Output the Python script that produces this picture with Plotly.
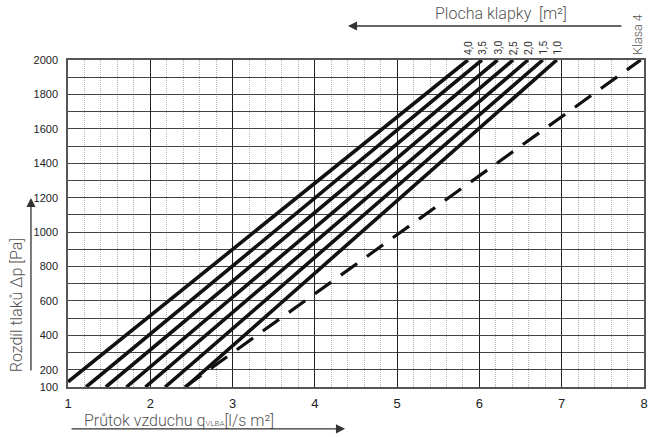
import plotly.graph_objects as go

# ---- data ----
area_labels = ["4,0", "3,5", "3,0", "2,5", "2,0", "1,5", "1,0"]
flow_start = [1.0, 1.22, 1.46, 1.71, 1.94, 2.18, 2.43]
dp_start = [130, 100, 100, 100, 100, 100, 100]
flow_end = [5.86, 6.03, 6.22, 6.41, 6.59, 6.77, 6.94]
dp_end = [2000, 2000, 2000, 2000, 2000, 2000, 2000]

class_label = "Klasa 4"
class_flow = [2.42, 7.96]
class_dp = [100, 2000]

y_tickvals = [100, 200, 400, 600, 800, 1000, 1200, 1400, 1600, 1800, 2000]
x_tickvals = [1, 2, 3, 4, 5, 6, 7, 8]

fig = go.Figure()

for lab, x0, y0, x1, y1 in zip(area_labels, flow_start, dp_start, flow_end, dp_end):
    fig.add_trace(go.Scatter(x=[x0, x1], y=[y0, y1], mode="lines",
                             line=dict(color="#111111", width=3.6),
                             showlegend=False, hoverinfo="skip"))
    fig.add_annotation(x=x1, y=y1, xref="x", yref="y", text=lab, showarrow=False,
                       textangle=-90, xanchor="center", yanchor="bottom", yshift=3,
                       font=dict(family="Roboto, Liberation Sans", size=10.5, color="#333"))

fig.add_trace(go.Scatter(x=class_flow, y=class_dp, mode="lines",
                         line=dict(color="#111111", width=3.2, dash="20px,12px"),
                         showlegend=False, hoverinfo="skip"))
fig.add_annotation(x=class_flow[-1], y=class_dp[-1], xref="x", yref="y", text=class_label,
                   showarrow=False, textangle=-90, xanchor="center", yanchor="bottom", yshift=3,
                   xshift=-4,
                   font=dict(family="Roboto, Liberation Sans", size=12.5, color="#555", weight=300))

title_font = dict(family="Roboto, Noto Sans, sans-serif", size=16, color="#555", weight=300)
arrow_col = "#333"

# top title + arrow
fig.add_annotation(xref="paper", yref="paper", x=0.752, y=1.141, text="Plocha klapky  [m²]",
                   showarrow=False, font=title_font, xanchor="center", yanchor="middle")
fig.add_annotation(xref="paper", yref="paper", x=0.486, y=1.104, ax=275, ay=0,
                   axref="pixel", ayref="pixel", text="", showarrow=True,
                   arrowhead=2, arrowsize=1.4, arrowwidth=1.3, arrowcolor=arrow_col)

# left title + arrow
fig.add_annotation(xref="paper", yref="paper", x=-0.088, y=0.251, text="Rozdíl tlaků Δp [Pa]",
                   showarrow=False, font=title_font, textangle=-90,
                   xanchor="center", yanchor="middle")
fig.add_annotation(xref="paper", yref="paper", x=-0.0643, y=0.578, ax=0, ay=174,
                   axref="pixel", ayref="pixel", text="", showarrow=True,
                   arrowhead=2, arrowsize=1.4, arrowwidth=1.3, arrowcolor=arrow_col)

# bottom title + arrow
fig.add_annotation(xref="paper", yref="paper", x=0.193, y=-0.101,
                   text="Průtok vzduchu q<span style='font-size:8px'>VLBA</span>[l/s m²]",
                   showarrow=False, font=title_font, xanchor="center", yanchor="middle")
fig.add_annotation(xref="paper", yref="paper", x=0.481, y=-0.128, ax=-275, ay=0,
                   axref="pixel", ayref="pixel", text="", showarrow=True,
                   arrowhead=2, arrowsize=1.4, arrowwidth=1.3, arrowcolor=arrow_col)

fig.update_layout(
    width=653, height=437,
    margin=dict(l=68, r=5, t=60, b=50),
    paper_bgcolor="white", plot_bgcolor="white",
    xaxis=dict(range=[1, 8], tickvals=x_tickvals, showgrid=True, gridcolor="#222",
               gridwidth=1, zeroline=False, showline=True, linecolor="#555", linewidth=1.5,
               mirror=True, ticks="", ticklabelstandoff=4,
               tickfont=dict(family="Liberation Sans, Arial", size=13, color="#222"),
               minor=dict(dtick=0.2, tick0=1, showgrid=True, gridcolor="#b5b5b5",
                          griddash="1px,1px", gridwidth=1)),
    yaxis=dict(range=[100, 2000], tickvals=y_tickvals, showgrid=True, gridcolor="#444",
               gridwidth=1.2, zeroline=False, showline=True, linecolor="#555", linewidth=1.5,
               mirror=True, ticks="", ticklabelstandoff=6,
               tickfont=dict(family="Liberation Sans, Arial", size=11, color="#222"),
               minor=dict(dtick=100, tick0=100, showgrid=True, gridcolor="#444",
                          gridwidth=1.2)),
)

fig.write_html("out.html", config={"displayModeBar": False},
               post_script="document.body.style.margin='0';")
